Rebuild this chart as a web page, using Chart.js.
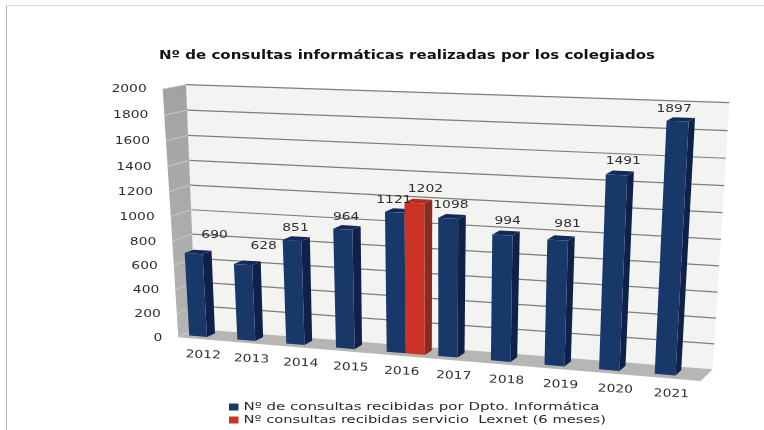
<!DOCTYPE html>
<html><head><meta charset="utf-8">
<style>html,body{margin:0;padding:0;background:#fff}#w{position:absolute;left:0;top:0;width:764px;height:430px}canvas{filter:blur(0.4px)}</style>
<script src="https://cdn.jsdelivr.net/npm/chart.js@4"></script></head>
<body><div id="w"><canvas id="c"></canvas></div>
<script>
const categories=['2012','2013','2014','2015','2016','2017','2018','2019','2020','2021'];
const informatica=[690,628,851,964,1121,1098,994,981,1491,1897];
const lexnet=[null,null,null,null,1202,null,null,null,null,null];
const yTicks=[0,200,400,600,800,1000,1200,1400,1600,1800,2000];
const seriesNames=['Nº de consultas recibidas por Dpto. Informática','Nº consultas recibidas servicio  Lexnet (6 meses)'];
const titleText='Nº de consultas informáticas realizadas por los colegiados';

// Projection of the tilted 3D box (u along categories, v along value, d depth)
const backQuad=[[186,84.7],[729.3,102.7],[712.7,369.3],[196,329]];
const frontQuad=[[162.7,89],[716,110],[700.7,381],[178.3,337.3]];
function homography(q){ // maps unit square (u,v) with v=1 top
  const [p3,p2,p1,p0]=[q[0],q[1],q[2],q[3]]; // p0:(0,0) p1:(1,0) p2:(1,1) p3:(0,1)
  const dx1=p1[0]-p2[0],dx2=p3[0]-p2[0],sx=p0[0]-p1[0]+p2[0]-p3[0];
  const dy1=p1[1]-p2[1],dy2=p3[1]-p2[1],sy=p0[1]-p1[1]+p2[1]-p3[1];
  const den=dx1*dy2-dx2*dy1;
  const g=(sx*dy2-dx2*sy)/den,h=(dx1*sy-sx*dy1)/den;
  const a=p1[0]-p0[0]+g*p1[0],b=p3[0]-p0[0]+h*p3[0],c=p0[0];
  const d=p1[1]-p0[1]+g*p1[1],e=p3[1]-p0[1]+h*p3[1],f=p0[1];
  return (u,v)=>{const w=g*u+h*v+1;return [(a*u+b*v+c)/w,(d*u+e*v+f)/w];};
}
const hBack=homography(backQuad),hFront=homography(frontQuad);
function P(u,v,d){const a=hFront(u,v),b=hBack(u,v);return [a[0]+(b[0]-a[0])*d,a[1]+(b[1]-a[1])*d];}
function poly(ctx,pts,fill){ctx.beginPath();pts.forEach((p,i)=>i?ctx.lineTo(p[0],p[1]):ctx.moveTo(p[0],p[1]));ctx.closePath();ctx.fillStyle=fill;ctx.fill();}
function line(ctx,a,b,col,w){ctx.beginPath();ctx.moveTo(a[0],a[1]);ctx.lineTo(b[0],b[1]);ctx.strokeStyle=col;ctx.lineWidth=w;ctx.stroke();}
function text(ctx,s,x,y,o){ctx.save();ctx.font=o.font;ctx.fillStyle=o.color||'#333';ctx.textBaseline='middle';ctx.textAlign='left';
  const m=ctx.measureText(s).width,sx=o.width?o.width/m:(o.sx||1),W=m*sx;
  ctx.translate(x,y);if(o.rot)ctx.rotate(o.rot);ctx.scale(sx,1);
  const off=o.align==='right'?-W/sx:o.align==='left'?0:-W/sx/2;ctx.fillText(s,off,0);ctx.restore();}

const depth0=0.27,depth1=0.73;
const faces=[{front:'#19386a',side:'#0f2148',top:'#12295a'},{front:'#cb3424',side:'#8a2b1f',top:'#b32c1f'}];
// hand placed label nudges in the reference (x,y) relative to the bar top
const nudgeX=[[12,12,-5,-5,-9,-5,-2,3,0,-10],[0,0,0,0,3,0,0,0,0,0]];
const nudgeY=[[-15,-15,-9,-9,-9,-9,-10,-12,-10,-9],[0,0,0,0,-10,0,0,0,0,0]];

const box3d={id:'box3d',
  beforeDatasetsDraw(chart){
    const ctx=chart.ctx,A=chart.chartArea,X=chart.scales.x,Y=chart.scales.y;
    const vOf=val=>(A.bottom-Y.getPixelForValue(val))/A.height;
    const uOf=px=>(px-A.left)/A.width;
    ctx.save();
    // frame
    line(ctx,[6.5,430],[6.5,5.5],'#b4b4b4',1);line(ctx,[6,5.5],[764,5.5],'#d8d8d8',1);
    // walls
    poly(ctx,[P(0,1,1),P(1,1,1),P(1,0,1),P(0,0,1)],'#f3f3f2');
    const g=ctx.createLinearGradient(0,88,0,335);g.addColorStop(0,'#a2a2a0');g.addColorStop(1,'#b4b4b2');
    poly(ctx,[P(0,1,0),P(0,1,1),P(0,0,1),P(0,0,0)],g);
    poly(ctx,[P(0,0,0),P(0,0,1),P(1,0,1),P(1,0,0)],'#b6b6b4');
    Y.ticks.forEach(t=>{const v=vOf(t.value);
      if(t.value>0)line(ctx,P(0,v,1),P(1,v,1),'#7d7d7f',1.2);
      line(ctx,P(0,v,0),P(0,v,1),'#c9c9c7',1);
      const a=P(0,v,0);
      text(ctx,String(t.value),a[0]-16,a[1]+0.5,{font:'11px "DejaVu Sans"',sx:1.26,align:'right',color:'#2f2f2f'});
    });
    // category labels
    X.ticks.forEach((t,i)=>{const u=uOf(X.getPixelForTick(i)),a=P(u,-0.072,0);
      text(ctx,X.getLabelForValue(t.value),a[0],a[1]-1-2*u,{font:'11px "DejaVu Sans"',sx:1.26,rot:0.035,color:'#2f2f2f'});});
    // bars
    chart.data.datasets.forEach((ds,di)=>{
      const f=faces[di];
      chart.getDatasetMeta(di).data.forEach((el,i)=>{
        if(ds.data[i]==null)return;
        const w=el.width,u0=uOf(el.x-w/2),u1=uOf(el.x+w/2),v=vOf(ds.data[i]);
        poly(ctx,[P(u1,0,depth0),P(u1,0,depth1),P(u1,v,depth1),P(u1,v,depth0)],f.side);
        poly(ctx,[P(u0,v,depth0),P(u0,v,depth1),P(u1,v,depth1),P(u1,v,depth0)],f.top);
        poly(ctx,[P(u0,0,depth0),P(u1,0,depth0),P(u1,v,depth0),P(u0,v,depth0)],f.front);
      });
    });
    // value labels
    chart.data.datasets.forEach((ds,di)=>{
      chart.getDatasetMeta(di).data.forEach((el,i)=>{
        if(ds.data[i]==null)return;
        const a=P(uOf(el.x),vOf(ds.data[i]),depth1);
        text(ctx,String(ds.data[i]),a[0]+nudgeX[di][i],a[1]+nudgeY[di][i],{font:'11px "DejaVu Sans"',sx:1.26,color:'#2f2f2f'});
      });
    });
    // title
    text(ctx,chart.options.plugins.title.text,407,56,{font:'bold 13px "DejaVu Sans"',width:496,color:'#111'});
    // legend
    chart.data.datasets.forEach((ds,di)=>{
      const y=di?420:407;
      ctx.fillStyle=ds.backgroundColor;ctx.fillRect(229,y-3.5,9.5,7);
      text(ctx,ds.label,243.5,y,{font:'11px "DejaVu Sans"',width:di?362.5:356,align:'left',color:'#2a2a2a'});
    });
    ctx.restore();
  },
  beforeDatasetDraw(){return false;}
};

new Chart(document.getElementById('c'),{
  type:'bar',
  data:{labels:categories,datasets:[
    {label:seriesNames[0],data:informatica,backgroundColor:'#19386a',categoryPercentage:0.74,barPercentage:1},
    {label:seriesNames[1],data:lexnet,backgroundColor:'#cb3424',categoryPercentage:0.74,barPercentage:1}]},
  options:{responsive:true,maintainAspectRatio:false,animation:false,
    layout:{padding:{left:40,right:40,top:40,bottom:40}},
    plugins:{legend:{display:false},tooltip:{enabled:false},title:{display:false,text:titleText}},
    scales:{
      x:{display:false},
      y:{display:false,min:0,max:2000,afterBuildTicks(s){s.ticks=yTicks.map(v=>({value:v}));}}
    }},
  plugins:[box3d]
});
</script></body></html>
